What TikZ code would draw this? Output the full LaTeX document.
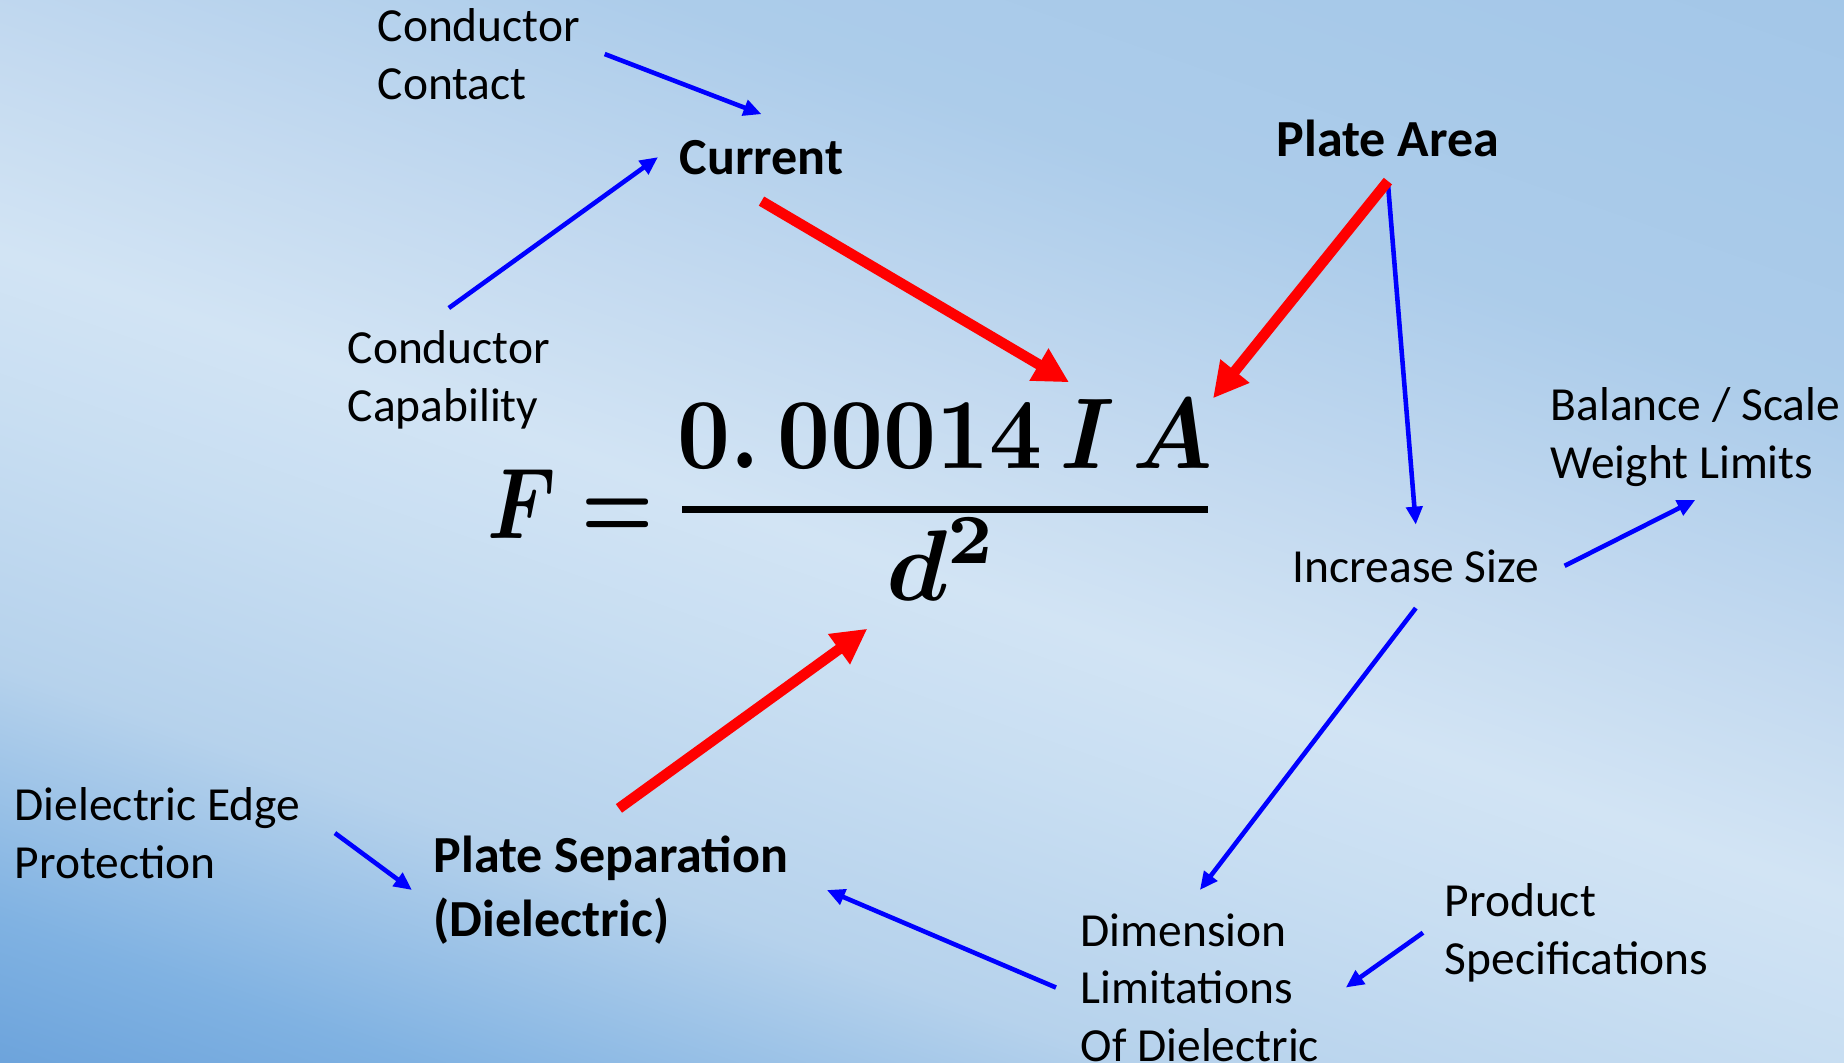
\documentclass[tikz,border=0pt]{standalone}
\usepackage{amsmath,amssymb}
\usepackage{graphicx}
\usepackage[no-math]{fontspec}
\setmainfont{Carlito}
\usepackage{xcolor}
\usetikzlibrary{positioning,calc,arrows.meta}

\definecolor{bgdeep}{RGB}{104,160,218}
\definecolor{bgdark}{RGB}{128,178,226}
\definecolor{bgmid}{RGB}{182,210,236}
\definecolor{bglight}{RGB}{200,222,242}
\definecolor{bgpale}{RGB}{210,228,244}
\definecolor{bglighttop}{RGB}{196,218,240}
\definecolor{bgskylow}{RGB}{172,204,234}
\definecolor{bgsky}{RGB}{162,198,232}
\definecolor{linkblue}{RGB}{0,0,255}
\definecolor{drivered}{RGB}{255,0,0}

\pgfdeclareverticalshading{backdrop}{100bp}{color(0bp)=(bgdeep); color(25bp)=(bgdeep); color(30bp)=(bgdark); color(37bp)=(bgmid); color(44bp)=(bglight); color(48.5bp)=(bgpale); color(54bp)=(bglighttop); color(62bp)=(bgskylow); color(75bp)=(bgsky); color(100bp)=(bgsky)}

\newcommand{\bigeq}[2][2.86]{\scalebox{#1}[2.86]{\boldmath$#2$}}

\begin{document}
\begin{tikzpicture}[
  x=0.01cm, y=-0.01cm,
  cause/.style={anchor=base west, inner sep=0, align=left, font=\fontsize{13.5}{16.3}\selectfont},
  factor/.style={anchor=base west, inner sep=0, align=left, font=\fontsize{14.8}{18}\selectfont\bfseries},
  eq/.style={inner sep=0},
  link/.style={-{Triangle[length=0.18cm, width=0.16cm]}, line width=1.3pt, draw=linkblue},
  drive/.style={-{Triangle[length=0.35cm, width=0.35cm]}, line width=3pt, draw=drivered}
]

% background
\useasboundingbox (0,0) rectangle (1844,1062);
\begin{scope}
  \clip (0,0) rectangle (1844,1062);
  \begin{scope}[transform canvas={rotate around={-19.3:(922,573)}}]
    \shade[shading=backdrop] (-1200,-327) rectangle (3100,1373);
  \end{scope}
\end{scope}

% formula
\node[eq, anchor=base] (num) at (945,468) {\bigeq[2.62]{0.\,00014\,I\,A}};
\node[fill=black, inner sep=0, minimum width=5.26cm, minimum height=0.07cm] (bar) at (945,509) {};
\node[eq, anchor=base] (den) at (942,600) {\bigeq{d^{2}}};
\node[eq, anchor=base east] (lhs) at (655,538) {\bigeq[2.3]{F =}};

% labels (base = last line)
\node[cause] (contact) at (377,99) {Conductor\\Contact};
\node[factor] (current) at (679,174) {Current};
\node[cause] (capab) at (347,421) {Conductor\\Capability};
\node[factor] (area) at (1276,156) {Plate Area};
\node[cause] (scale) at (1550,478) {Balance / Scale\\Weight Limits};
\node[cause] (size) at (1292,582) {Increase Size};
\node[cause] (edge) at (14,878) {Dielectric Edge\\Protection};
\node[factor] (gap) at (433,936) {Plate Separation\\(Dielectric)};
\node[cause] (limits) at (1080,1061) {Dimension\\Limitations\\Of Dielectric};
\node[cause] (specs) at (1444,974) {Product\\Specifications};

% blue links
\draw[link] ([xshift=0.24cm]contact.east) -- ([yshift=0.25cm]current.north);
\draw[link] ([yshift=0.22cm]capab.north) -- ([xshift=-0.21cm]current.west);
\draw[link] ([yshift=-0.26cm]area.south) -- ([yshift=0.24cm]size.north);
\draw[link] ([xshift=0.25cm]size.east) -- ([yshift=-0.13cm]scale.south);
\draw[link] ([yshift=-0.25cm]size.south) -- ([yshift=0.23cm]limits.north);
\draw[link] ([xshift=-0.24cm]limits.west) -- ([xshift=0.38cm]gap.east);
\draw[link] ([xshift=0.34cm]edge.east) -- ([xshift=-0.21cm]gap.west);
\draw[link] ([xshift=-0.21cm]specs.west) -- ([xshift=0.26cm]limits.east);

% red drivers
\draw[drive] ([yshift=-0.26cm]current.south) -- ([xshift=1.24cm,yshift=0.16cm]num.north);
\draw[drive] ([yshift=-0.24cm]area.south) -- (num.north east);
\draw[drive] ([xshift=0.08cm,yshift=0.27cm]gap.north) -- ([xshift=-0.18cm,yshift=-0.28cm]den.south west);

\end{tikzpicture}
\end{document}
